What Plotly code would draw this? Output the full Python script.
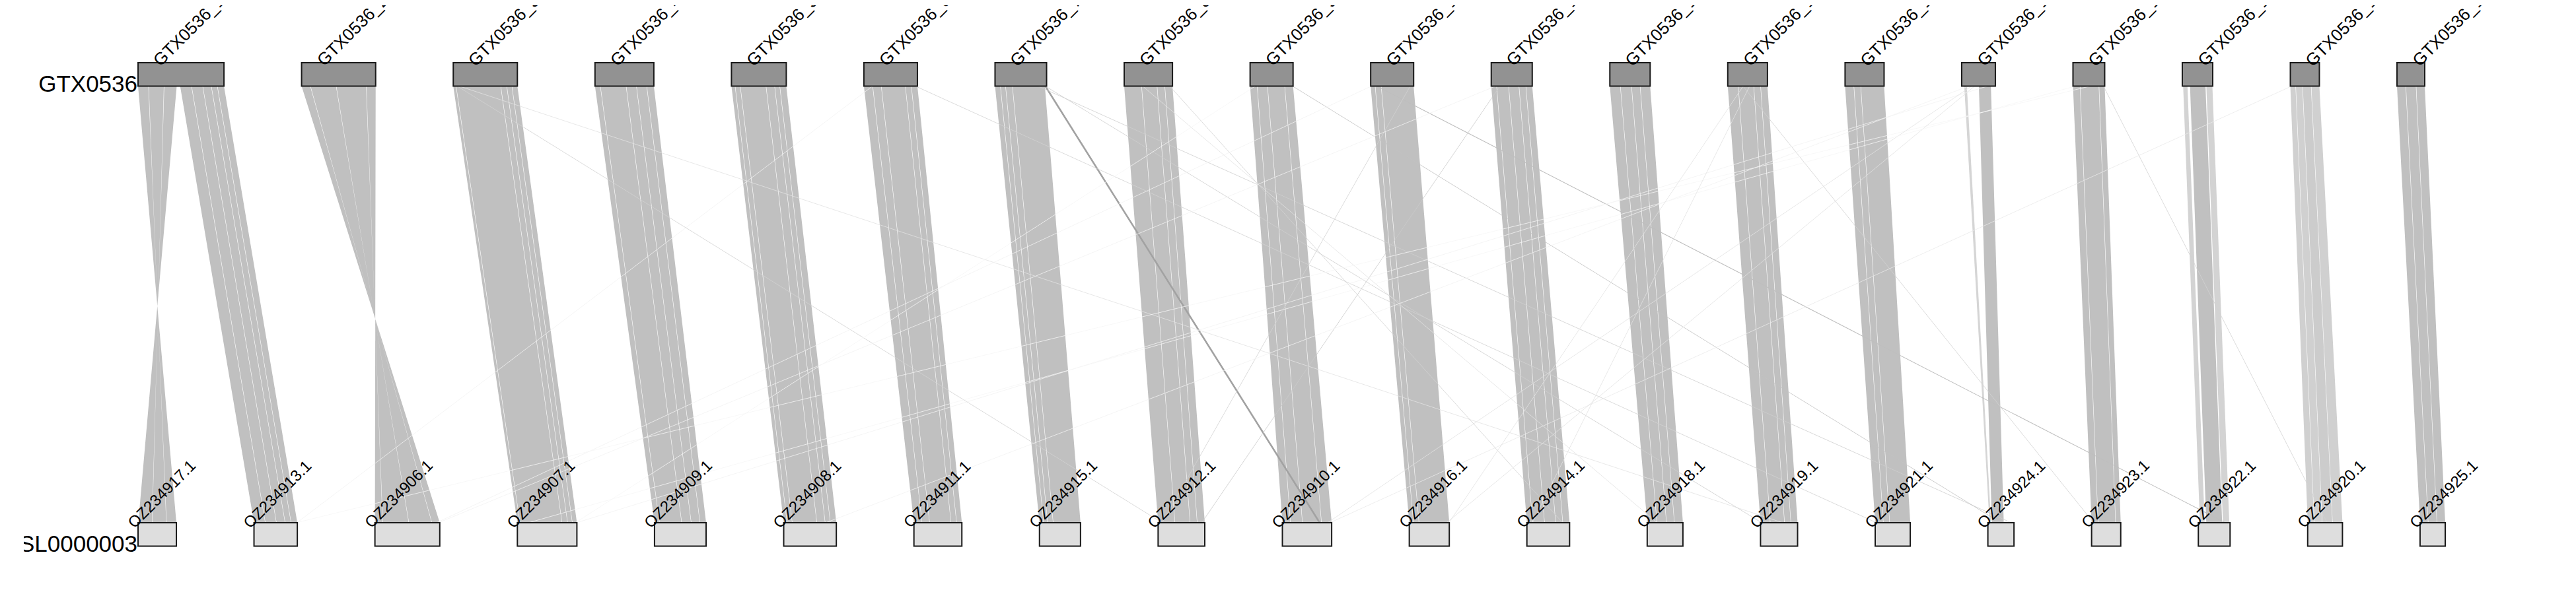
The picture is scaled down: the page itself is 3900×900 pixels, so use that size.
import plotly.graph_objects as go

# ---------------- data ----------------
TOP_GENOME = "GTX0536"
BOTTOM_GENOME = "SL0000003"

top_chroms = ["GTX0536_1", "GTX0536_2", "GTX0536_3", "GTX0536_4", "GTX0536_5",
              "GTX0536_6", "GTX0536_7", "GTX0536_8", "GTX0536_9", "GTX0536_10",
              "GTX0536_11", "GTX0536_12", "GTX0536_13", "GTX0536_14", "GTX0536_15",
              "GTX0536_16", "GTX0536_17", "GTX0536_18", "GTX0536_19"]
top_lengths_mb = [100.0, 86.2, 74.6, 68.5, 63.8, 62.3, 60.0, 56.2, 50.0, 50.0,
                  47.7, 46.9, 46.2, 45.4, 39.2, 36.9, 35.4, 33.8, 32.3]

bottom_chroms = ["OZ234917.1", "OZ234913.1", "OZ234906.1", "OZ234907.1", "OZ234909.1",
                 "OZ234908.1", "OZ234911.1", "OZ234915.1", "OZ234912.1", "OZ234910.1",
                 "OZ234916.1", "OZ234914.1", "OZ234918.1", "OZ234919.1", "OZ234921.1",
                 "OZ234924.1", "OZ234923.1", "OZ234922.1", "OZ234920.1", "OZ234925.1"]
bottom_lengths_mb = [48.3, 54.6, 81.7, 75.0, 65.0, 66.3, 60.4, 51.7, 58.8, 62.1,
                     50.4, 53.8, 45.0, 46.7, 44.2, 32.9, 36.7, 40.0, 43.8, 31.7]

# collinear blocks: (top chr #, top start, top end, bottom chr #, bottom start, bottom end, identity %)
# bottom start > bottom end = inverted block
collinear_blocks = [
    (1, 0.0, 12.0, 1, 48.3, 36.0, 95), (1, 12.5, 30.0, 1, 35.5, 18.0, 95), (1, 30.5, 45.0, 1, 17.5, 0.3, 95),
    (1, 49.0, 62.0, 2, 0.0, 14.0, 95), (1, 62.5, 75.0, 2, 14.5, 28.0, 95), (1, 75.5, 85.0, 2, 28.5, 39.0, 95),
    (1, 85.5, 92.0, 2, 39.5, 46.5, 95), (1, 92.5, 100.0, 2, 47.0, 54.6, 95),
    (2, 0.0, 10.0, 3, 81.7, 72.0, 95), (2, 10.5, 40.0, 3, 71.5, 43.0, 95), (2, 40.5, 75.0, 3, 42.5, 10.0, 95),
    (2, 75.5, 86.2, 3, 9.5, 0.0, 95),
    (3, 0.0, 3.0, 4, 0.0, 3.0, 95), (3, 3.5, 55.0, 4, 3.5, 56.0, 95), (3, 55.5, 62.0, 4, 56.5, 63.0, 95),
    (3, 62.5, 68.0, 4, 63.5, 69.0, 95), (3, 68.5, 74.6, 4, 69.5, 75.0, 95),
    (4, 0.0, 6.0, 5, 0.0, 6.0, 95), (4, 6.5, 36.0, 5, 6.5, 34.0, 95), (4, 36.5, 48.0, 5, 34.5, 46.0, 95),
    (4, 48.5, 60.0, 5, 46.5, 57.0, 95), (4, 60.5, 68.5, 5, 57.5, 65.0, 95),
    (5, 0.0, 4.0, 6, 0.0, 4.0, 95), (5, 4.5, 10.0, 6, 4.5, 10.5, 95), (5, 10.5, 40.0, 6, 11.0, 41.5, 95),
    (5, 40.5, 50.0, 6, 42.0, 52.0, 95), (5, 50.5, 56.0, 6, 52.5, 58.5, 95), (5, 56.5, 63.8, 6, 59.0, 66.3, 95),
    (6, 0.0, 10.0, 7, 0.0, 10.0, 95), (6, 10.5, 20.0, 7, 10.5, 19.5, 95), (6, 20.5, 48.0, 7, 20.0, 46.5, 95),
    (6, 48.5, 55.0, 7, 47.0, 53.5, 95), (6, 55.5, 62.3, 7, 54.0, 60.4, 95),
    (7, 0.0, 6.0, 8, 0.0, 5.0, 95), (7, 6.5, 12.0, 8, 5.5, 10.0, 95), (7, 12.5, 20.0, 8, 10.5, 17.0, 95),
    (7, 20.5, 58.0, 8, 17.5, 51.7, 95),
    (8, 0.0, 20.0, 9, 0.0, 21.0, 95), (8, 20.5, 38.0, 9, 21.5, 40.0, 95), (8, 38.5, 47.0, 9, 40.5, 49.0, 95),
    (8, 47.5, 56.2, 9, 49.5, 58.8, 95),
    (9, 0.0, 8.0, 10, 0.0, 10.0, 95), (9, 8.5, 20.0, 10, 10.5, 25.0, 95), (9, 20.5, 40.0, 10, 25.5, 49.0, 95),
    (9, 40.5, 50.0, 10, 49.5, 62.1, 95),
    (10, 0.0, 5.0, 11, 0.0, 5.0, 95), (10, 5.5, 12.0, 11, 5.5, 12.0, 95), (10, 12.5, 50.0, 11, 12.5, 50.4, 95),
    (11, 0.0, 6.0, 12, 0.0, 7.0, 95), (11, 6.5, 20.0, 12, 7.5, 22.0, 95), (11, 20.5, 32.0, 12, 22.5, 36.0, 95),
    (11, 32.5, 40.0, 12, 36.5, 45.0, 95), (11, 40.5, 47.7, 12, 45.5, 53.8, 95),
    (12, 0.0, 12.0, 13, 0.0, 12.0, 95), (12, 12.5, 25.0, 13, 12.5, 24.0, 95), (12, 25.5, 35.0, 13, 24.5, 34.0, 95),
    (12, 35.5, 46.9, 13, 34.5, 45.0, 95),
    (13, 0.0, 12.0, 14, 0.0, 12.0, 95), (13, 12.5, 30.0, 14, 12.5, 30.0, 95), (13, 30.5, 38.0, 14, 30.5, 38.0, 95),
    (13, 38.5, 46.2, 14, 38.5, 46.7, 95),
    (14, 0.0, 10.0, 15, 0.0, 10.0, 95), (14, 10.5, 18.0, 15, 10.5, 18.0, 95), (14, 18.5, 45.4, 15, 18.5, 44.2, 95),
    (15, 3.0, 6.0, 16, 2.0, 4.0, 86), (15, 20.0, 34.0, 16, 5.0, 20.0, 95),
    (16, 0.0, 8.0, 17, 0.0, 8.0, 95), (16, 8.5, 30.0, 17, 8.5, 30.0, 95), (16, 30.5, 36.9, 17, 30.5, 36.7, 95),
    (17, 1.0, 6.0, 18, 2.0, 8.0, 87), (17, 9.0, 27.0, 18, 10.0, 30.0, 95), (17, 28.0, 35.0, 18, 31.0, 39.0, 87),
    (18, 0.0, 6.0, 19, 0.0, 8.0, 88), (18, 6.5, 14.0, 19, 8.5, 18.0, 88), (18, 14.5, 24.0, 19, 18.5, 31.0, 90),
    (18, 24.5, 33.8, 19, 31.5, 43.8, 88),
    (19, 0.0, 10.0, 20, 0.0, 10.0, 95), (19, 10.5, 22.0, 20, 10.5, 21.0, 95), (19, 22.5, 32.3, 20, 21.5, 31.7, 95),
]

# scattered (non-collinear) links: (top chr #, top Mb, bottom chr #, bottom Mb, block size Mb, identity %)
scattered_links = [
    (7, 58.5, 10, 47.0, 2.0, 92),
    (10, 7.0, 18, 34.0, 0.8, 85),
    (3, 4.6, 9, 5.0, 0.5, 80),
    (3, 7.0, 14, 28.0, 0.3, 76),
    (6, 60.0, 15, 1.7, 0.3, 80),
    (7, 58.5, 14, 1.5, 0.3, 81),
    (7, 50.0, 16, 29.5, 0.3, 81),
    (9, 49.5, 16, 16.0, 0.5, 84),
    (13, 17.7, 17, 2.5, 0.3, 80),
    (16, 35.4, 19, 24.5, 0.3, 80),
    (11, 10.0, 9, 55.0, 0.3, 82),
    (10, 46.0, 9, 5.0, 0.3, 80),
    (8, 53.0, 12, 45.0, 0.3, 80),
    (8, 21.5, 13, 12.5, 0.3, 76),
    (10, 0.8, 3, 77.5, 0.2, 72),
    (6, 10.0, 2, 54.0, 0.2, 72),
    (16, 20.0, 2, 53.0, 0.2, 71),
    (11, 5.0, 3, 80.0, 0.2, 72),
    (15, 30.0, 4, 74.5, 0.2, 72),
    (9, 6.0, 4, 73.0, 0.2, 71),
    (18, 1.5, 10, 60.0, 0.2, 74),
    (15, 11.5, 10, 57.0, 0.2, 76),
    (15, 15.0, 11, 47.0, 0.2, 76),
    (15, 8.0, 6, 53.0, 0.2, 72),
    (16, 2.3, 4, 14.0, 0.2, 71),
    (13, 25.4, 12, 7.0, 0.2, 76),
    (13, 18.0, 11, 50.0, 0.2, 76),
]

# ---------------- layout constants ----------------
W, H = 3900, 900
PAGE_OFFSET = 8          # default body margin of the html page
CLIP_LEFT = 36           # left edge of drawing area (clips the bottom genome label)
ROW_LEFT = 209
TOP_RIGHT = 3671
BOT_RIGHT = 3702
GAP = 117.5
TOP_Y0, TOP_Y1 = 95.0, 130.5
BOT_Y0, BOT_Y1 = 792.0, 827.5
FONT = "Liberation Sans, Arial, Helvetica, sans-serif"


def row_layout(lengths, right):
    scale = (right - ROW_LEFT - GAP * (len(lengths) - 1)) / sum(lengths)
    starts, x = [], ROW_LEFT
    for L in lengths:
        starts.append(x)
        x += L * scale + GAP
    return starts, scale


top_start, top_scale = row_layout(top_lengths_mb, TOP_RIGHT)
bot_start, bot_scale = row_layout(bottom_lengths_mb, BOT_RIGHT)


def tx(c, mb):
    return top_start[c - 1] + mb * top_scale


def bx(c, mb):
    return bot_start[c - 1] + mb * bot_scale


def grey(identity, strong):
    t = max(0.0, min(1.0, (identity - 70) / 25.0))
    g = int(round(250 - t * (250 - strong)))
    return f"rgb({g},{g},{g})"


fig = go.Figure()

groups = {}
for (tc, ts, te, bc, bs, be, ident) in collinear_blocks:
    col = grey(ident, 192)
    xs, ys = groups.setdefault(col, ([], []))
    xs += [tx(tc, ts), tx(tc, te), bx(bc, be), bx(bc, bs), tx(tc, ts), None]
    ys += [TOP_Y1, TOP_Y1, BOT_Y0, BOT_Y0, TOP_Y1, None]
for col, (xs, ys) in groups.items():
    fig.add_trace(go.Scatter(x=xs, y=ys, mode="lines", fill="toself", fillcolor=col,
                             line=dict(width=0, color=col), hoverinfo="skip"))

for (tc, tp, bc, bp, size, ident) in scattered_links:
    col = grey(ident, 150)
    w = max(0.8, size * top_scale)
    fig.add_trace(go.Scatter(x=[tx(tc, tp), bx(bc, bp)], y=[TOP_Y1, BOT_Y0], mode="lines",
                             line=dict(color=col, width=w), hoverinfo="skip"))

shapes = []
for i, L in enumerate(top_lengths_mb):
    shapes.append(dict(type="rect", xref="x", yref="y", x0=top_start[i], x1=top_start[i] + L * top_scale,
                       y0=TOP_Y0, y1=TOP_Y1, fillcolor="rgb(146,146,146)",
                       line=dict(color="#1a1a1a", width=2), layer="above"))
for i, L in enumerate(bottom_lengths_mb):
    shapes.append(dict(type="rect", xref="x", yref="y", x0=bot_start[i], x1=bot_start[i] + L * bot_scale,
                       y0=BOT_Y0, y1=BOT_Y1, fillcolor="rgb(222,222,222)",
                       line=dict(color="#1a1a1a", width=2), layer="above"))

fig.add_trace(go.Scatter(x=[ROW_LEFT - 1, ROW_LEFT - 1], y=[TOP_Y1, BOT_Y1], mode="text",
                         text=[TOP_GENOME, BOTTOM_GENOME], textposition="middle left",
                         textfont=dict(size=35, color="black", family=FONT),
                         cliponaxis=True, hoverinfo="skip"))

annotations = []
for i, name in enumerate(top_chroms):
    annotations.append(dict(x=top_start[i] + 14, y=109, xref="x", yref="y", text=name,
                            showarrow=False, textangle=-45, xanchor="left", yanchor="bottom",
                            font=dict(size=26, color="black", family=FONT)))
for i, name in enumerate(bottom_chroms):
    annotations.append(dict(x=bot_start[i] - 24, y=808, xref="x", yref="y", text=name,
                            showarrow=False, textangle=-45, xanchor="left", yanchor="bottom",
                            font=dict(size=24, color="black", family=FONT)))

# axis ranges chosen so that data units equal screen pixels of the photographed page
fig.update_layout(
    width=W, height=H,
    margin=dict(l=CLIP_LEFT - PAGE_OFFSET, r=0, t=0, b=0),
    paper_bgcolor="white", plot_bgcolor="white",
    showlegend=False,
    xaxis=dict(range=[CLIP_LEFT, W + PAGE_OFFSET], visible=False, fixedrange=True),
    yaxis=dict(range=[H + PAGE_OFFSET, PAGE_OFFSET], visible=False, fixedrange=True),
    shapes=shapes,
    annotations=annotations,
)

fig.write_html("out.html")
